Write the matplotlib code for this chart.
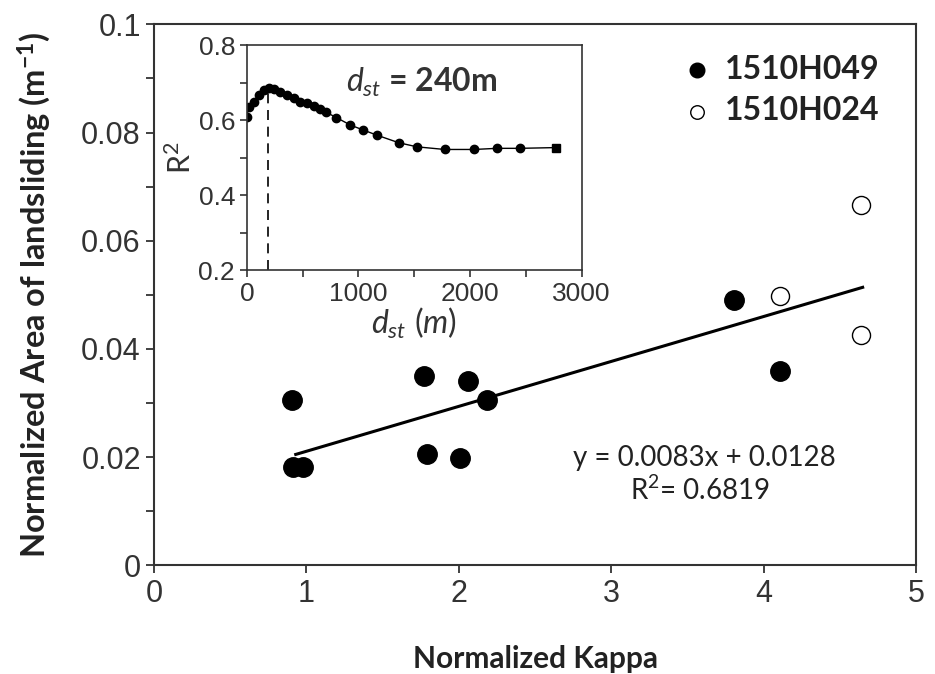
import numpy as np
import matplotlib
matplotlib.use('Agg')
import matplotlib.pyplot as plt

plt.rcParams['font.family'] = ['Lato', 'DejaVu Sans']
plt.rcParams['mathtext.fontset'] = 'custom'
plt.rcParams['mathtext.rm'] = 'Lato'
plt.rcParams['mathtext.it'] = 'Lato:italic'
plt.rcParams['mathtext.bf'] = 'Lato:bold'

# main scatter data
kappa_049 = [0.906, 0.91, 0.978, 1.772, 1.791, 2.060, 2.008, 2.185, 3.806, 4.108]
area_049 = [0.0306, 0.0182, 0.0182, 0.0350, 0.0206, 0.0341, 0.0199, 0.0306, 0.0490, 0.0359]
kappa_024 = [4.108, 4.639, 4.639]
area_024 = [0.0498, 0.0666, 0.0426]
slope, intercept = 0.0083, 0.0128
fit_x = [0.93, 4.65]

# inset data: R2 vs d_st
dst = [0, 15, 60, 105, 150, 195, 240, 300, 360, 420, 480, 540, 600, 660, 705,
       803, 928, 1042, 1167, 1361, 1525, 1773, 2038, 2241, 2444, 2772]
r2 = [0.609, 0.635, 0.649, 0.667, 0.680, 0.685, 0.683, 0.676, 0.667, 0.658, 0.649,
      0.645, 0.638, 0.629, 0.622, 0.607, 0.587, 0.574, 0.560, 0.540, 0.529, 0.522,
      0.522, 0.525, 0.525, 0.527]
dst_best = 190

tick_color = '#333333'
spine_color = '#333333'

fig = plt.figure(figsize=(9.35, 6.74), dpi=100)
ax = fig.add_axes([0.1647, 0.161, 0.815, 0.803])

ax.scatter(kappa_049, area_049, s=14**2, color='black', zorder=3, label='1510H049')
ax.scatter(kappa_024, area_024, s=13**2, facecolor='white', edgecolor='black',
           linewidth=1.0, zorder=3, label='1510H024')
fx = np.array(fit_x)
ax.plot(fx, slope * fx + intercept, color='black', lw=2.2, zorder=2)

ax.set_xlim(0, 5)
ax.set_ylim(0, 0.1)
ax.set_xticks([0, 1, 2, 3, 4, 5])
ax.set_yticks([0, 0.02, 0.04, 0.06, 0.08, 0.1])
ax.set_yticklabels(['0', '0.02', '0.04', '0.06', '0.08', '0.1'])
ax.set_yticks(np.arange(0.01, 0.1, 0.02), minor=True)
ax.tick_params(which='both', direction='out', length=6, width=1.3, color=spine_color,
               labelsize=22, labelcolor=tick_color)
for lab in ax.get_xticklabels() + ax.get_yticklabels():
    lab.set_family('Liberation Sans')
for sp in ax.spines.values():
    sp.set_color(spine_color)
    sp.set_linewidth(1.5)

ax.set_xlabel('Normalized Kappa', fontsize=21.5, fontweight='bold', color='#222222', labelpad=26)
ax.set_ylabel(r'Normalized Area of landsliding (m$^\mathbf{-1}$)', fontsize=23.5,
              fontweight='bold', color='#222222', labelpad=20)

ax.text(3.61, 0.0198, 'y = 0.0083x + 0.0128', ha='center', va='center', fontsize=20, color='#222222')
ax.text(3.58, 0.0139, r'R$^2$= 0.6819', ha='center', va='center', fontsize=20, color='#222222')

leg = ax.legend(loc='upper right', bbox_to_anchor=(0.99, 0.997), frameon=False,
                handlelength=1.0, handletextpad=0.375, labelspacing=0.4, markerscale=0.75,
                prop={'weight': 'bold', 'size': 23})
for t in leg.get_texts():
    t.set_color('#222222')

# inset
ins = fig.add_axes([0.264, 0.599, 0.358, 0.334])
ins.plot(dst[:-1], r2[:-1], color='black', lw=1.0, marker='o', ms=6)
ins.plot(dst[-2:], r2[-2:], color='black', lw=1.0)
ins.plot(dst[-1:], r2[-1:], color='black', marker='s', ms=6, lw=0)
ins.plot([dst_best, dst_best], [0.2, max(r2)], color='black', lw=1.2, ls=(0, (6, 4)))
ins.set_xlim(0, 3000)
ins.set_ylim(0.2, 0.8)
ins.set_xticks([0, 1000, 2000, 3000])
ins.set_xticks([500, 1500, 2500], minor=True)
ins.set_yticks([0.2, 0.4, 0.6, 0.8])
ins.set_yticks([0.3, 0.5, 0.7], minor=True)
ins.tick_params(which='both', direction='out', length=5, width=1.2, color=spine_color,
                labelsize=19, labelcolor=tick_color)
for lab in ins.get_xticklabels() + ins.get_yticklabels():
    lab.set_family('Liberation Sans')
for sp in ins.spines.values():
    sp.set_color(spine_color)
    sp.set_linewidth(1.2)
ins.set_xlabel(r'$d_{st}\ (m)$', fontsize=23, color='#333333', labelpad=0)
ins.set_ylabel(r'R$^2$', fontsize=22, color='#333333', labelpad=2)
ins.text(1567, 0.701, r'$d_{st}$ = 240m', ha='center', va='center', fontsize=23,
         fontweight='bold', color='#333333')

fig.savefig('out.png', dpi=100)
